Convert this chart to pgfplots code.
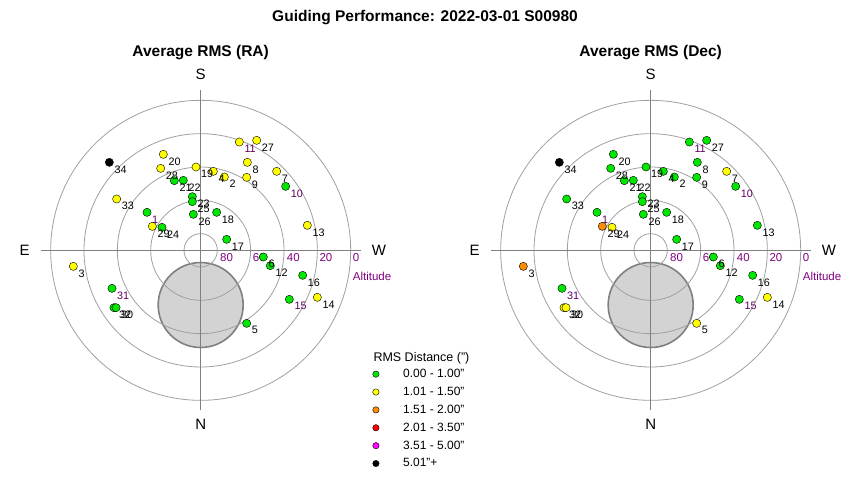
\documentclass[border=0pt]{standalone}
\usepackage{pgfplots}
\pgfplotsset{compat=1.18}
\usepackage{pgfplotstable}
\usepackage{fontspec}
\setmainfont{Liberation Sans}
\definecolor{cg}{RGB}{0,230,0}
\definecolor{cy}{RGB}{255,255,0}
\definecolor{co}{RGB}{255,140,0}
\definecolor{cr}{RGB}{255,0,0}
\definecolor{cm}{RGB}{255,0,255}
\definecolor{ringc}{RGB}{160,160,160}
\definecolor{axc}{RGB}{128,128,128}
\definecolor{moonfill}{RGB}{211,211,211}
\definecolor{moonedge}{RGB}{128,128,128}
\definecolor{altp}{RGB}{128,0,128}
\definecolor{lblp}{RGB}{96,0,96}
\protected\def\pl#1{\textcolor{lblp}{#1}}
\newcommand\lgap{\hspace*{5bp}}

% x,y = position on the sky chart in degrees of zenith distance (S up, W right)
\pgfplotstableread{
lab x y ra dec
34 -54.8 52.8 K K
20 -22.4 57.6 Y G
28 -24.0 49.2 Y G
21 -15.8 41.8 G G
22 -10.4 42.0 G G
19 -2.8 50.0 Y G
4 7.6 47.4 Y G
2 14.2 44.0 Y G
\pl{11} 23.2 65.0 Y G
27 33.6 66.0 Y G
8 28.0 52.8 Y G
9 27.6 43.8 Y G
7 45.6 47.4 Y Y
\pl{10} 51.0 38.4 G G
33 -50.4 30.8 Y G
\pl{1} -32.2 22.8 G G
29 -29.0 14.4 Y O
24 -23.2 13.8 G Y
23 -5.0 32.2 G G
25 -5.0 29.2 G G
26 -4.4 21.6 G G
18 9.6 22.8 G G
17 15.6 6.6 G G
13 64.0 15.0 Y G
6 37.6 -4.0 G G
12 41.8 -9.2 G G
16 61.2 -15.0 G G
14 70.0 -28.2 Y Y
\pl{15} 53.2 -29.4 G G
5 27.6 -43.8 G Y
3 -76.4 -9.6 Y O
\pl{31} -53.2 -22.8 G G
32 -52.0 -34.4 G Y
30 -50.8 -34.4 G Y
}\pts

\newcommand\ptfont{\fontsize{10.8bp}{12bp}\selectfont}
\newcommand\ringfont{\fontsize{11.5bp}{13bp}\selectfont}
\newcommand\cardfont{\fontsize{15bp}{17bp}\selectfont}
\newcommand\ttlfont{\fontsize{15.5bp}{18bp}\selectfont\bfseries}

\pgfplotsset{
  polarbase/.style={x=1.666667bp, y=1.666667bp, xmin=-120, xmax=120, ymin=-120, ymax=120,
    hide axis, clip=false, anchor=center},
  ptmarks/.style={scatter, only marks, forget plot, scatter src=explicit symbolic,
    mark size=4.1bp,
    scatter/classes={
      G={mark=*, draw=black, fill=cg},
      Y={mark=*, draw=black, fill=cy},
      O={mark=*, draw=black, fill=co},
      R={mark=*, draw=black, fill=cr},
      M={mark=*, draw=black, fill=cm},
      K={mark=*, draw=black, fill=black}}},
  ptlabels/.style={only marks, mark=none, forget plot,
    point meta=explicit symbolic,
    nodes near coords,
    every node near coord/.append style={anchor=west, font=\ptfont, inner sep=0pt,
      xshift=5bp, yshift=-7bp, text=black}},
}

\newcommand\polargrid{%
  \draw[fill=moonfill, draw=moonedge, line width=1.6bp] (axis cs:0,-32.8) circle[radius=25.5];
  \draw[ringc, line width=0.8bp] (axis cs:0,0) circle[radius=10];
  \draw[ringc, line width=0.8bp] (axis cs:0,0) circle[radius=30];
  \draw[ringc, line width=0.8bp] (axis cs:0,0) circle[radius=50];
  \draw[ringc, line width=0.8bp] (axis cs:0,0) circle[radius=70];
  \draw[ringc, line width=0.8bp] (axis cs:0,0) circle[radius=90];
  \draw[axc, line width=0.8bp] (axis cs:-96,0) -- (axis cs:96,0);
  \draw[axc, line width=0.8bp] (axis cs:0,-96) -- (axis cs:0,96);
  \node[font=\cardfont] at (axis cs:0,105.6) {S};
  \node[font=\cardfont] at (axis cs:0,-104.6) {N};
  \node[font=\cardfont] at (axis cs:-105.6,0) {E};
  \node[font=\cardfont] at (axis cs:107,0) {W};
  \node[font=\ringfont, text=altp, anchor=west, inner sep=0pt] at (axis cs:11.6,-4.6) {80};
  \node[font=\ringfont, text=altp, anchor=west, inner sep=0pt] at (axis cs:31.2,-4.6) {60};
  \node[font=\ringfont, text=altp, anchor=west, inner sep=0pt] at (axis cs:51.6,-4.6) {40};
  \node[font=\ringfont, text=altp, anchor=west, inner sep=0pt] at (axis cs:71.2,-4.6) {20};
  \node[font=\ringfont, text=altp, anchor=west, inner sep=0pt] at (axis cs:91.2,-4.6) {0};
  \node[font=\ringfont, text=altp, anchor=west, inner sep=0pt] at (axis cs:91.2,-15.6) {Altitude};
}

\begin{document}
\begin{tikzpicture}[x=1bp,y=1bp]
\useasboundingbox (0bp,-480bp) rectangle (850bp,0bp);

\node[font=\ttlfont] at (425bp,-18bp) {Guiding Performance: 2022-03-01 S00980};

% ---------- RA ----------
\begin{axis}[polarbase, at={(200.67bp,-250.33bp)},
  legend style={at={(0.9296,0.2033)}, anchor=north west, draw=none, fill=none,
    font=\fontsize{12bp}{14bp}\selectfont, inner sep=0pt,
    nodes={inner sep=0pt, anchor=west}, row sep=8bp,
    /tikz/every odd column/.append style={column sep=19bp}},
  legend cell align=left]
\polargrid
\node[font=\ttlfont] at (axis cs:0,118.4) {Average RMS (RA)};
\addplot[ptmarks] table[x=x, y=y, meta=ra] {\pts};
\addplot[ptlabels] table[x=x, y=y, meta=lab] {\pts};
\addlegendimage{only marks, mark=*, mark size=3.2bp, mark options={draw=black, fill=cg}}
\addlegendentry{\lgap 0.00 - 1.00"}
\addlegendimage{only marks, mark=*, mark size=3.2bp, mark options={draw=black, fill=cy}}
\addlegendentry{\lgap 1.01 - 1.50"}
\addlegendimage{only marks, mark=*, mark size=3.2bp, mark options={draw=black, fill=co}}
\addlegendentry{\lgap 1.51 - 2.00"}
\addlegendimage{only marks, mark=*, mark size=3.2bp, mark options={draw=black, fill=cr}}
\addlegendentry{\lgap 2.01 - 3.50"}
\addlegendimage{only marks, mark=*, mark size=3.2bp, mark options={draw=black, fill=cm}}
\addlegendentry{\lgap 3.51 - 5.00"}
\addlegendimage{only marks, mark=*, mark size=3.2bp, mark options={draw=black, fill=black}}
\addlegendentry{\lgap 5.01"+}
\end{axis}

% ---------- Dec ----------
\begin{axis}[polarbase, at={(650.67bp,-250.33bp)}]
\polargrid
\node[font=\ttlfont] at (axis cs:0,118.4) {Average RMS (Dec)};
\addplot[ptmarks] table[x=x, y=y, meta=dec] {\pts};
\addplot[ptlabels] table[x=x, y=y, meta=lab] {\pts};
\end{axis}

\node[anchor=west, inner sep=0pt, font=\fontsize{12.5bp}{14bp}\selectfont] at (373.3bp,-358bp) {RMS Distance (")};
\end{tikzpicture}
\end{document}
